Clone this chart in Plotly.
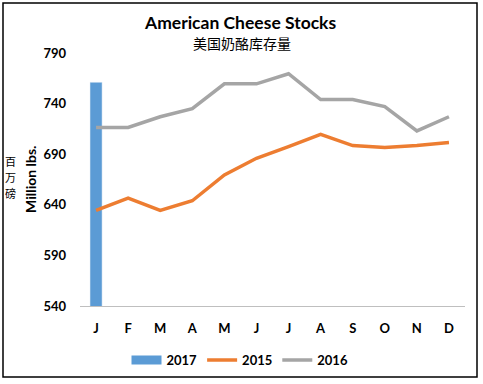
import plotly.graph_objects as go

months = ["J", "F", "M", "A", "M", "J", "J", "A", "S", "O", "N", "D"]
x_idx = list(range(len(months)))
stocks_2017 = [761]
stocks_2015 = [634.5, 646.5, 634.5, 644, 669.5, 686, 697.5, 709.5, 698.5, 696.5, 698.5, 701.5]
stocks_2016 = [716.5, 716.5, 727, 735, 759.5, 759.5, 769.5, 744, 744, 737, 713, 727]
y_ticks = [540, 590, 640, 690, 740, 790]

FONT = "Lato"
BLUE, ORANGE, GRAY = "#5B9BD5", "#ED7D31", "#A5A5A5"
fig = go.Figure()
fig.add_trace(go.Bar(x=x_idx[:1], y=stocks_2017, name="2017", marker_color=BLUE,
                     width=0.375, base=0, showlegend=False))
# legend entry for the bar, drawn as a wide block like the reference
fig.add_trace(go.Scatter(x=[None], y=[None], name="2017", mode="lines",
                         line=dict(color=BLUE, width=9)))
fig.add_trace(go.Scatter(x=x_idx, y=stocks_2015, name="2015", mode="lines",
                         line=dict(color=ORANGE, width=3.5)))
fig.add_trace(go.Scatter(x=x_idx, y=stocks_2016, name="2016", mode="lines",
                         line=dict(color=GRAY, width=3.5)))

L, R, T, B = 80, 18, 53, 78
W, H = 483, 384
pw, ph = W - L - R, H - T - B

def px(x):
    return (x - L) / pw

def py(y):
    return (H - B - y) / ph

fig.update_layout(
    width=W, height=H,
    margin=dict(l=L, r=R, t=T, b=B, pad=0, autoexpand=False),
    plot_bgcolor="white", paper_bgcolor="white",
    showlegend=True,
    legend=dict(orientation="h", x=px(240), xanchor="center", y=py(360), yanchor="middle",
                font=dict(family=FONT, size=13, color="#000", weight="bold"),
                traceorder="normal", tracegroupgap=0, itemwidth=30),
    xaxis=dict(range=[-0.5, 11.5], tickvals=x_idx, ticktext=months, showgrid=False,
               showline=True, linecolor="#BFBFBF", linewidth=1, ticks="",
               tickfont=dict(family=FONT, size=13, color="#000", weight="bold"),
               ticklabelstandoff=10, zeroline=False),
    yaxis=dict(range=[540, 790], tickvals=y_ticks, showgrid=False, showline=False,
               zeroline=False, ticks="",
               tickfont=dict(family=FONT, size=13, color="#000", weight="bold"),
               ticklabelstandoff=13),
    barmode="overlay",
)

fig.add_annotation(text="<b>American Cheese Stocks</b>", xref="paper", yref="paper",
                   x=px(240), y=py(22), xanchor="center", yanchor="middle", showarrow=False,
                   font=dict(family=FONT, size=17.5, color="#000"))
fig.add_annotation(text="美国奶酪库存量", xref="paper", yref="paper",
                   x=px(242), y=py(43), xanchor="center", yanchor="middle", showarrow=False,
                   font=dict(family="Noto Sans CJK SC", size=14, color="#000"))
fig.add_annotation(text="<b>Million lbs.</b>", xref="paper", yref="paper", textangle=-90,
                   x=px(30), y=py(180), xanchor="center", yanchor="middle", showarrow=False,
                   font=dict(family=FONT, size=14, color="#000"))
for ch, yy in zip("百万磅", [161, 177, 193]):
    fig.add_annotation(text=ch, xref="paper", yref="paper",
                       x=px(10), y=py(yy), xanchor="center", yanchor="middle", showarrow=False,
                       borderpad=0, font=dict(family="Noto Sans CJK SC", size=11, color="#000"))

fig.add_shape(type="rect", xref="paper", yref="paper",
              x0=px(3), x1=px(477), y0=py(377), y1=py(3),
              line=dict(color="#000", width=1.5), fillcolor="rgba(0,0,0,0)", layer="above")

fig.write_html("out.html", config={"displayModeBar": False},
               post_script="document.body.style.margin='0';")
